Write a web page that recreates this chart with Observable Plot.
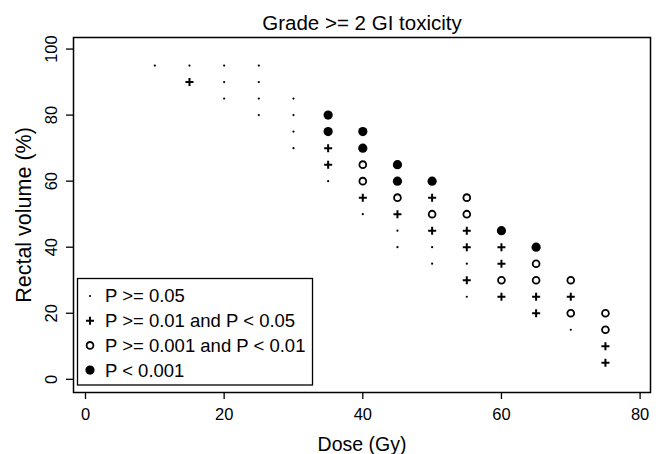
<!DOCTYPE html>
<html><head><meta charset="utf-8">
<script src="https://cdn.jsdelivr.net/npm/d3@7"></script>
<script src="https://cdn.jsdelivr.net/npm/@observablehq/plot@0.6"></script>
<style>body{margin:0;background:#fff} svg{display:block}</style>
</head><body><div id="chart"></div>
<script>
const title = "Grade >= 2 GI toxicity";
const xLabel = "Dose (Gy)";
const yLabel = "Rectal volume (%)";
const xTicks = [0, 20, 40, 60, 80];
const yTicks = [0, 20, 40, 60, 80, 100];
const levels = ["P >= 0.05", "P >= 0.01 and P < 0.05", "P >= 0.001 and P < 0.01", "P < 0.001"];

const dose = [
  10,
  15, 15,
  20, 20, 20,
  25, 25, 25, 25,
  30, 30, 30, 30,
  35, 35, 35, 35, 35,
  40, 40, 40, 40, 40, 40,
  45, 45, 45, 45, 45, 45,
  50, 50, 50, 50, 50, 50,
  55, 55, 55, 55, 55, 55, 55,
  60, 60, 60, 60, 60,
  65, 65, 65, 65, 65,
  70, 70, 70, 70,
  75, 75, 75, 75
];
const volume = [
  95,
  95, 90,
  95, 90, 85,
  95, 90, 85, 80,
  85, 80, 75, 70,
  80, 75, 70, 65, 60,
  75, 70, 65, 60, 55, 50,
  65, 60, 55, 50, 45, 40,
  60, 55, 50, 45, 40, 35,
  55, 50, 45, 40, 35, 30, 25,
  45, 40, 35, 30, 25,
  40, 35, 30, 25, 20,
  30, 25, 20, 15,
  20, 15, 10, 5
];
// index into levels
const level = [
  0,
  0, 1,
  0, 0, 0,
  0, 0, 0, 0,
  0, 0, 0, 0,
  3, 3, 1, 1, 0,
  3, 3, 2, 2, 1, 0,
  3, 3, 2, 1, 0, 0,
  3, 1, 2, 1, 0, 0,
  2, 2, 1, 1, 0, 1, 0,
  3, 1, 1, 2, 1,
  3, 2, 2, 1, 1,
  2, 1, 2, 0,
  2, 2, 1, 1
];

const data = dose.map((d, i) => ({dose: d, volume: volume[i], level: level[i]}));
const byLevel = k => data.filter(d => d.level === k);

const plusSymbol = {
  draw(context, size) {
    const r = Math.sqrt(size / Math.PI);
    context.moveTo(-r, 0); context.lineTo(r, 0);
    context.moveTo(0, -r); context.lineTo(0, r);
  }
};

const FONT = "'Liberation Sans', Arial, Helvetica, sans-serif";

const chart = Plot.plot({
  width: 661,
  height: 454,
  marginLeft: 73,
  marginRight: 11,
  marginTop: 37,
  marginBottom: 62,
  style: {fontFamily: FONT, color: "#000", background: "#fff", overflow: "visible"},
  x: {domain: [-1.73, 81.5]},
  y: {domain: [-4, 103.5]},
  marks: [
    Plot.frame({stroke: "#000", strokeWidth: 1.5}),
    Plot.axisX(xTicks, {tickSize: 7, tickPadding: 9, fontSize: 16.5, strokeWidth: 1.3, label: null}),
    Plot.axisY(yTicks, {tickSize: 7, tickPadding: 10, tickRotate: -90, fontSize: 16.5, strokeWidth: 1.3, label: null}),
    Plot.text([title], {frameAnchor: "top", dy: -8, lineAnchor: "bottom", fontSize: 20.5}),
    Plot.text([xLabel], {frameAnchor: "bottom", dy: 58, lineAnchor: "bottom", fontSize: 19.5}),
    Plot.text([yLabel], {frameAnchor: "left", dx: -49, textAnchor: "middle", lineAnchor: "middle", rotate: -90, fontSize: 21.5, letterSpacing: 1.5}),
    Plot.dot(byLevel(0), {x: "dose", y: "volume", r: 1.1, fill: "#000"}),
    Plot.dot(byLevel(1), {x: "dose", y: "volume", r: 4, symbol: plusSymbol, stroke: "#000", strokeWidth: 2}),
    Plot.dot(byLevel(2), {x: "dose", y: "volume", r: 3.4, stroke: "#000", strokeWidth: 1.8, fill: "none"}),
    Plot.dot(byLevel(3), {x: "dose", y: "volume", r: 4.6, fill: "#000"})
  ]
});

// Legend box inside the plot frame (bottom-left)
const svg = d3.select(chart);
const lg = svg.append("g").attr("font-family", FONT).attr("font-size", 18.5).attr("text-anchor", "start");
lg.append("rect").attr("x", 77.5).attr("y", 278.5).attr("width", 235).attr("height", 106.5)
  .attr("fill", "#fff").attr("stroke", "#000").attr("stroke-width", 1.3);
const rowY = i => 296 + i * 24.7;
levels.forEach((lab, i) => {
  const cy = rowY(i), cx = 90;
  if (i === 0) lg.append("circle").attr("cx", cx).attr("cy", cy).attr("r", 1.1).attr("fill", "#000");
  if (i === 1) lg.append("path").attr("d", `M${cx-4},${cy}H${cx+4}M${cx},${cy-4}V${cy+4}`).attr("stroke", "#000").attr("stroke-width", 2);
  if (i === 2) lg.append("circle").attr("cx", cx).attr("cy", cy).attr("r", 3.4).attr("fill", "none").attr("stroke", "#000").attr("stroke-width", 1.8);
  if (i === 3) lg.append("circle").attr("cx", cx).attr("cy", cy).attr("r", 4.6).attr("fill", "#000");
  lg.append("text").attr("x", 105).attr("y", cy).attr("dy", "0.35em").text(lab);
});

document.getElementById("chart").append(chart);
</script>
</body></html>
